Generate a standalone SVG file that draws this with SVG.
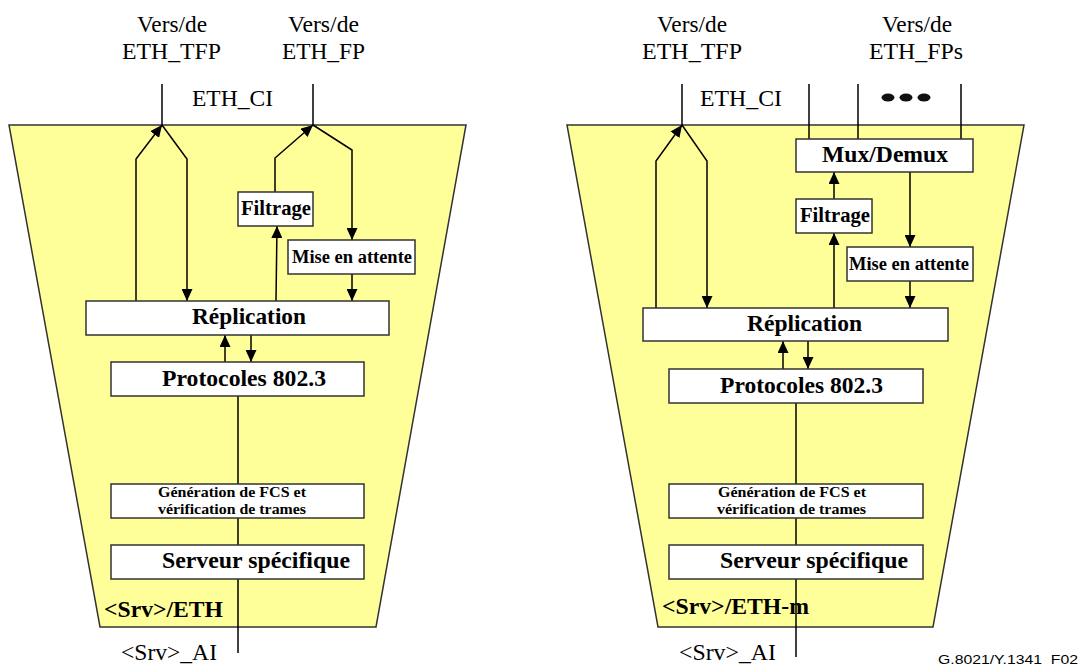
<svg xmlns="http://www.w3.org/2000/svg" width="1083" height="668" viewBox="0 0 1083 668">
<style>
.frame{fill:#FFFF99;stroke:#333;stroke-width:1.5}
.box{fill:#fff;stroke:#333;stroke-width:1.5}
.t{font-family:"Liberation Serif","Times New Roman",serif;fill:#000}
.r{font-size:23.5px}
.b{font-weight:bold}
.big{font-size:22.5px}
.sm{font-size:14px}
.w{stroke:#000;stroke-width:1.5;fill:none}
.a{marker-end:url(#ah)}
.ref{font-family:"Liberation Sans",Arial,sans-serif;font-size:13.5px;fill:#000}
</style>
<defs>
<marker id="ah" markerUnits="userSpaceOnUse" markerWidth="12" markerHeight="11" refX="12" refY="5.5" orient="auto">
<path d="M0,0 L12,5.5 L0,11 z" fill="#000"/>
</marker>
</defs>

<!-- Left block: <Srv>/ETH -->
<g id="frame-eth">
<polygon class="frame" points="9,125 466,125 376,627 100,627"/>
<text class="t b big" x="104" y="617" textLength="119" lengthAdjust="spacingAndGlyphs">&lt;Srv&gt;/ETH</text>
</g>
<!-- Right block: <Srv>/ETH-m -->
<g id="frame-ethm">
<polygon class="frame" points="567,125 1024,125 933,627 658,627"/>
<text class="t b big" x="662" y="614" textLength="147" lengthAdjust="spacingAndGlyphs">&lt;Srv&gt;/ETH-m</text>
</g>

<!-- Access point labels -->
<g id="labels">
<text class="t r" x="137" y="32" textLength="70" lengthAdjust="spacingAndGlyphs">Vers/de</text>
<text class="t r" x="122" y="59" textLength="99" lengthAdjust="spacingAndGlyphs">ETH_TFP</text>
<text class="t r" x="288" y="32" textLength="71" lengthAdjust="spacingAndGlyphs">Vers/de</text>
<text class="t r" x="282" y="59" textLength="83" lengthAdjust="spacingAndGlyphs">ETH_FP</text>
<text class="t r" x="192" y="106" textLength="81" lengthAdjust="spacingAndGlyphs">ETH_CI</text>
<text class="t r" x="121" y="660" textLength="96" lengthAdjust="spacingAndGlyphs">&lt;Srv&gt;_AI</text>

<text class="t r" x="657" y="32" textLength="70" lengthAdjust="spacingAndGlyphs">Vers/de</text>
<text class="t r" x="642" y="59" textLength="100" lengthAdjust="spacingAndGlyphs">ETH_TFP</text>
<text class="t r" x="882" y="32" textLength="70" lengthAdjust="spacingAndGlyphs">Vers/de</text>
<text class="t r" x="869" y="59" textLength="94" lengthAdjust="spacingAndGlyphs">ETH_FPs</text>
<text class="t r" x="700" y="106" textLength="82" lengthAdjust="spacingAndGlyphs">ETH_CI</text>
<text class="t r" x="679" y="660" textLength="97" lengthAdjust="spacingAndGlyphs">&lt;Srv&gt;_AI</text>
<ellipse cx="888" cy="97.5" rx="6.5" ry="4" fill="#111"/>
<ellipse cx="906" cy="97.5" rx="6.5" ry="4" fill="#111"/>
<ellipse cx="924" cy="97.5" rx="6.5" ry="4" fill="#111"/>
<text class="ref" x="938" y="664" textLength="140" lengthAdjust="spacingAndGlyphs">G.8021/Y.1341&#160;&#160;F02</text>
</g>

<!-- Connectors -->
<g id="connectors">
<!-- left block -->
<path class="w" d="M162,84 V125"/>
<path class="w" d="M313,84 V125"/>
<path class="w a" d="M136,301 V159 L162,125"/>
<path class="w a" d="M162,125 L187,159 V301"/>
<path class="w a" d="M275,192 V158 L313,125"/>
<path class="w a" d="M313,125 L352,150 V240"/>
<path class="w a" d="M352,274 V301"/>
<path class="w a" d="M276,301 L277,226"/>
<path class="w a" d="M225,362 V335"/>
<path class="w a" d="M251,335 V362"/>
<path class="w" d="M238,396 V653"/>
<!-- right block -->
<path class="w" d="M682,84 V125"/>
<path class="w" d="M809,84 V139"/>
<path class="w" d="M858,84 V139"/>
<path class="w" d="M961,84 V139"/>
<path class="w a" d="M656,308 V161 L682,125"/>
<path class="w a" d="M682,125 L707,161 V308"/>
<path class="w a" d="M834,199 V172"/>
<path class="w a" d="M834,308 V233"/>
<path class="w a" d="M910,172 V247"/>
<path class="w a" d="M910,281 V308"/>
<path class="w a" d="M783,369 V341"/>
<path class="w a" d="M808,341 V369"/>
<path class="w" d="M796,403 V657"/>
</g>

<!-- Left block nodes -->
<g id="filtrage-l">
<rect class="box" x="238" y="192" width="75" height="34"/>
<text class="t b" font-size="20" x="241" y="215" textLength="70" lengthAdjust="spacingAndGlyphs">Filtrage</text>
</g>
<g id="attente-l">
<rect class="box" x="288" y="240" width="127" height="34"/>
<text class="t b" font-size="18.5" x="292" y="263" textLength="120" lengthAdjust="spacingAndGlyphs">Mise en attente</text>
</g>
<g id="replication-l">
<rect class="box" x="86" y="301" width="303" height="34"/>
<text class="t b big" x="192" y="324" textLength="114" lengthAdjust="spacingAndGlyphs">Réplication</text>
</g>
<g id="protocoles-l">
<rect class="box" x="111" y="362" width="253" height="34"/>
<text class="t b big" x="162" y="386" textLength="164" lengthAdjust="spacingAndGlyphs">Protocoles 802.3</text>
</g>
<g id="fcs-l">
<rect class="box" x="111" y="484" width="253" height="34"/>
<text class="t b sm" x="158" y="497" textLength="148" lengthAdjust="spacingAndGlyphs">Génération de FCS et</text>
<text class="t b sm" x="158" y="514" textLength="148" lengthAdjust="spacingAndGlyphs">vérification de trames</text>
</g>
<g id="serveur-l">
<rect class="box" x="111" y="545" width="253" height="34"/>
<text class="t b big" x="162" y="568" textLength="188" lengthAdjust="spacingAndGlyphs">Serveur spécifique</text>
</g>

<!-- Right block nodes -->
<g id="muxdemux-r">
<rect class="box" x="796" y="139" width="177" height="33"/>
<text class="t b big" x="822" y="162" textLength="126" lengthAdjust="spacingAndGlyphs">Mux/Demux</text>
</g>
<g id="filtrage-r">
<rect class="box" x="796" y="199" width="76" height="34"/>
<text class="t b" font-size="20" x="800" y="222" textLength="70" lengthAdjust="spacingAndGlyphs">Filtrage</text>
</g>
<g id="attente-r">
<rect class="box" x="847" y="247" width="126" height="34"/>
<text class="t b" font-size="18.5" x="849" y="270" textLength="120" lengthAdjust="spacingAndGlyphs">Mise en attente</text>
</g>
<g id="replication-r">
<rect class="box" x="643" y="308" width="305" height="33"/>
<text class="t b big" x="747" y="331" textLength="115" lengthAdjust="spacingAndGlyphs">Réplication</text>
</g>
<g id="protocoles-r">
<rect class="box" x="669" y="369" width="254" height="34"/>
<text class="t b big" x="720" y="393" textLength="163" lengthAdjust="spacingAndGlyphs">Protocoles 802.3</text>
</g>
<g id="fcs-r">
<rect class="box" x="669" y="484" width="254" height="34"/>
<text class="t b sm" x="718" y="497" textLength="148" lengthAdjust="spacingAndGlyphs">Génération de FCS et</text>
<text class="t b sm" x="717" y="514" textLength="149" lengthAdjust="spacingAndGlyphs">vérification de trames</text>
</g>
<g id="serveur-r">
<rect class="box" x="669" y="545" width="254" height="34"/>
<text class="t b big" x="720" y="568" textLength="188" lengthAdjust="spacingAndGlyphs">Serveur spécifique</text>
</g>
</svg>
